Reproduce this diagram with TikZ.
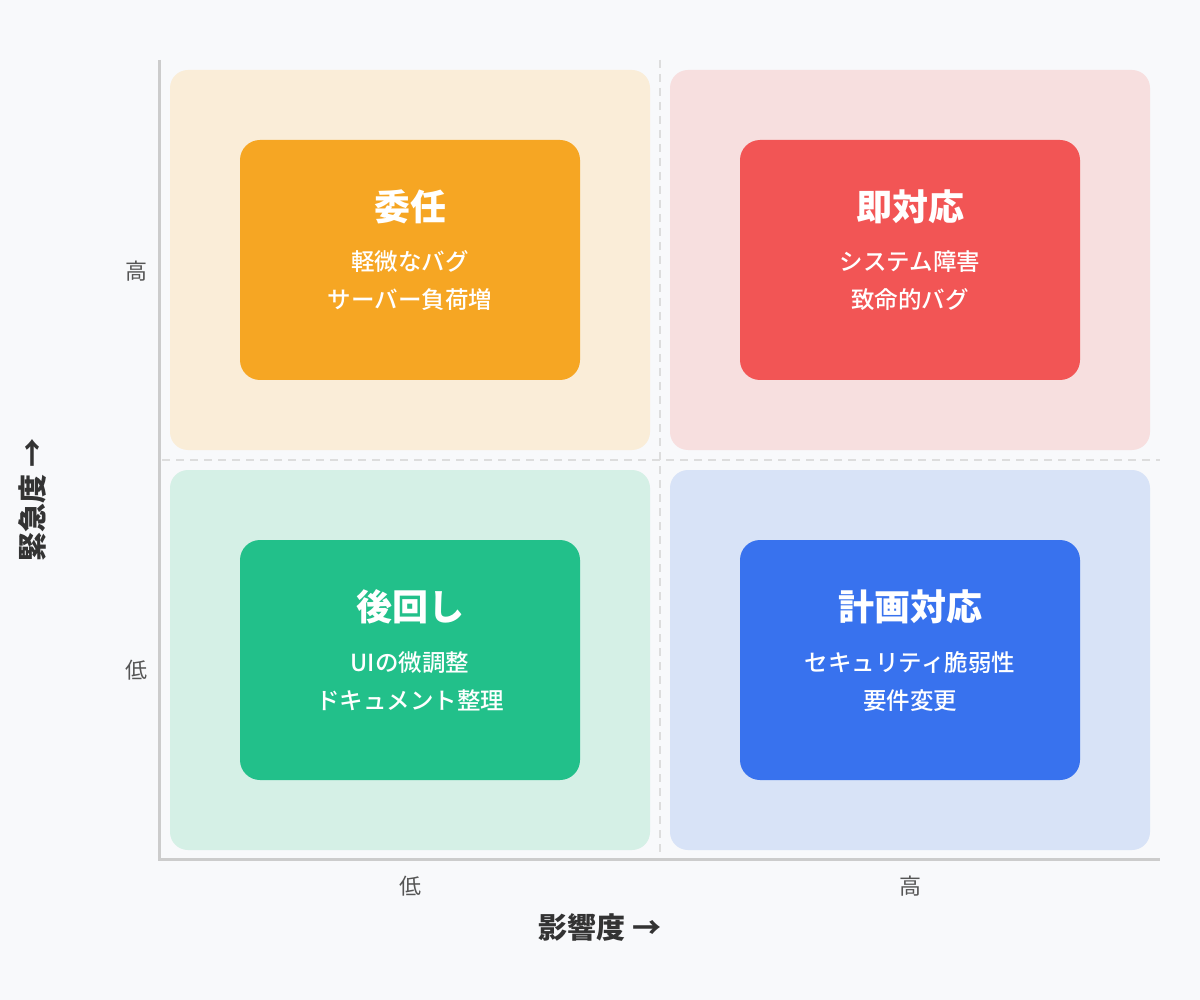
\documentclass[tikz,border=0pt]{standalone}
\usepackage{fontspec}
\setmainfont{Noto Sans CJK JP}
\newfontfamily\mediumfont{Noto Sans CJK JP Medium}
\usetikzlibrary{positioning}
\definecolor{pagebg}{HTML}{F8F9FB}
\definecolor{axisgray}{HTML}{CCCCCC}
\definecolor{dividergray}{HTML}{DDDDDD}
\definecolor{ticktext}{HTML}{555555}
\definecolor{axistext}{HTML}{333333}
\definecolor{delegateorange}{HTML}{F6A623}
\definecolor{delegatebg}{HTML}{FAEDD8}
\definecolor{urgentred}{HTML}{F25555}
\definecolor{urgentbg}{HTML}{F7DFDF}
\definecolor{laterggreen}{HTML}{22C08A}
\definecolor{laterbg}{HTML}{D5F0E6}
\definecolor{planblue}{HTML}{3872EE}
\definecolor{planbg}{HTML}{D8E3F7}

\begin{document}
\begin{tikzpicture}[
    x=1pt, y=-1pt,
    quadrant/.style={rectangle, rounded corners=18pt, minimum width=480pt, minimum height=380pt, inner sep=0pt},
    card/.style={rectangle, rounded corners=20pt, minimum width=340pt, minimum height=240pt, inner sep=0pt},
    cardtitle/.style={font=\fontsize{36}{40}\selectfont\bfseries, text=white},
    carditems/.style={font=\mediumfont\fontsize{23.5}{38}\selectfont, text=white, align=center},
    tick/.style={font=\fontsize{22}{26}\selectfont, text=ticktext},
    axislabel/.style={font=\fontsize{29}{33}\selectfont\bfseries, text=axistext},
    axis/.style={draw=axisgray, line width=3pt},
    divider/.style={draw=dividergray, line width=2pt, dash pattern=on 8pt off 6pt},
]

% Page
\fill[pagebg] (0,0) rectangle (1200,1000);
\useasboundingbox (0,0) rectangle (1200,1000);

% Dividers
\coordinate (vtop) at (660,60);
\coordinate (vbottom) at (660,858);
\coordinate (hleft) at (162,460);
\coordinate (hright) at (1160,460);
\draw[divider] (vtop) -- (vbottom);
\draw[divider] (hleft) -- (hright);

% Quadrants
\node[quadrant, fill=delegatebg] (delegate) at (410,260) {};
\node[quadrant, fill=urgentbg] (urgent) at (910,260) {};
\node[quadrant, fill=laterbg] (later) at (410,660) {};
\node[quadrant, fill=planbg] (plan) at (910,660) {};

% Top left
\node[card, fill=delegateorange] (delegatecard) at (410,260) {};
\node[cardtitle] (delegatetitle) at (410,207) {委任};
\node[carditems] (delegateitems) at (410,281) {軽微なバグ\\サーバー負荷増};

% Top right
\node[card, fill=urgentred] (urgentcard) at (910,260) {};
\node[cardtitle] (urgenttitle) at (910,207) {即対応};
\node[carditems] (urgentitems) at (910,281) {システム障害\\致命的バグ};

% Bottom left
\node[card, fill=laterggreen] (latercard) at (410,660) {};
\node[cardtitle] (latertitle) at (410,607) {後回し};
\node[carditems] (lateritems) at (410,681) {UIの微調整\\ドキュメント整理};

% Bottom right
\node[card, fill=planblue] (plancard) at (910,660) {};
\node[cardtitle] (plantitle) at (910,607) {計画対応};
\node[carditems] (planitems) at (910,681) {セキュリティ脆弱性\\要件変更};

% Axes
\coordinate (ytop) at (159.5,60);
\coordinate (origin) at (159.5,859.5);
\coordinate (xend) at (1160,859.5);
\draw[axis] (ytop) -- (origin) -- (xend);

% Ticks
\node[tick] (yhigh) at (136,271) {高};
\node[tick] (ylow) at (136,670) {低};
\node[tick] (xlow) at (410,886) {低};
\node[tick] (xhigh) at (910,886) {高};

% Axis labels
\node[axislabel, rotate=90] (ylabel) at (32,500) {緊急度 →};
\node[axislabel] (xlabel) at (600,928) {影響度 →};

\end{tikzpicture}
\end{document}
